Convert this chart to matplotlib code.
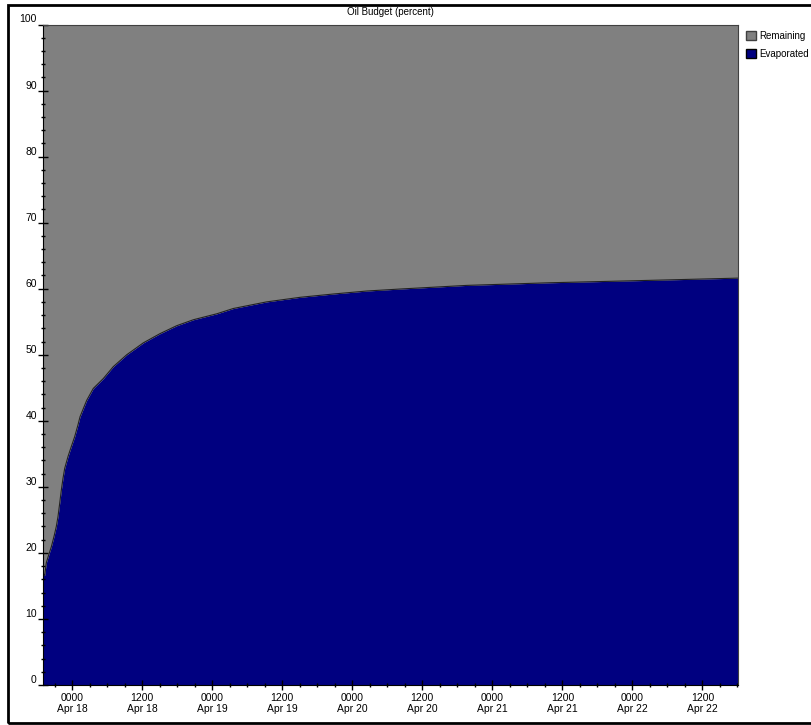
"""
Oil budget chart - remaining vs evaporated oil over five days
"""

from datetime import datetime, timedelta

import matplotlib
matplotlib.use('Agg')
import matplotlib.pyplot as plt
import matplotlib.dates as mdates
from matplotlib.patches import Patch, Rectangle

plt.rcParams['font.family'] = ['Liberation Sans', 'DejaVu Sans']

# hours since the start of the run
hours = [0.0, 0.29, 0.57, 0.98, 1.42, 1.89, 2.28, 2.57, 2.86, 3.14, 3.43,
         3.72, 4.29, 4.85, 5.43, 6.0, 6.34, 7.49, 8.62, 10.34, 12.05,
         14.35, 17.19, 20.06, 22.92, 25.77, 29.78, 32.6, 38.3, 44.1, 49.8,
         55.5, 61.2, 72.6, 86.9, 101.1, 119.1]
# evaporated share of the oil, percent
evaporated = [16.9, 16.6, 18.5, 19.7, 20.9, 22.5, 24.0, 25.5, 27.5, 29.5,
              31.3, 32.8, 34.6, 36.1, 37.6, 39.4, 40.6, 43.1, 44.9, 46.4,
              48.2, 50.0, 51.8, 53.2, 54.4, 55.3, 56.2, 57.0, 58.0, 58.7,
              59.2, 59.65, 59.95, 60.5, 60.9, 61.2, 61.6]
total = 100.0

start = datetime(2010, 4, 17, 19, 0)
times = [start + timedelta(hours=h) for h in hours]

W, H = 811, 725
fig = plt.figure(figsize=(W / 100, H / 100), dpi=100)
ax = fig.add_axes([43 / W, 40 / H, 695 / W, 660.5 / H])

grey = '#808080'
navy = '#000080'

ax.fill_between(times, evaporated, total, color=grey, linewidth=0)
ax.fill_between(times, 0, evaporated, color=navy, linewidth=0)
ax.plot(times, evaporated, color='#202020', linewidth=0.8)

ax.set_xlim(start, start + timedelta(hours=119.1))
ax.set_ylim(0, 100)

# axis ticks
ax.xaxis.set_major_locator(mdates.HourLocator(byhour=[0, 12]))
ax.xaxis.set_minor_locator(mdates.HourLocator(byhour=range(0, 24, 3)))
ax.xaxis.set_major_formatter(mdates.DateFormatter('%H%M\n%b %d'))
ax.set_yticks(range(0, 101, 10))
ax.set_yticks(range(0, 101, 2), minor=True)

ax.tick_params(axis='both', which='major', direction='inout', length=7,
               width=1, labelsize=7.5, color='black')
ax.tick_params(axis='both', which='minor', direction='inout', length=3,
               width=1, color='black')
ax.tick_params(axis='x', which='major', pad=2)
ax.tick_params(axis='y', which='major', pad=1)
for lab in ax.get_yticklabels():
    lab.set_verticalalignment('bottom')
for lab in ax.get_xticklabels():
    lab.set_linespacing(1.15)

for side in ['left', 'bottom']:
    ax.spines[side].set_color('black')
for side in ['top', 'right']:
    ax.spines[side].set_color('#404040')

fig.text((43 + 738) / 2 / W, 1 - 12 / H, 'Oil Budget (percent)',
         ha='center', va='center', fontsize=7)

# legend at the right hand side
handles = [Patch(facecolor=grey, edgecolor='#404040', label='Remaining'),
           Patch(facecolor=navy, edgecolor='black', label='Evaporated')]
fig.legend(handles=handles, loc='upper left',
           bbox_to_anchor=(746 / W, 1 - 31 / H), frameon=False,
           fontsize=7, handlelength=1.05, handleheight=1.05,
           handletextpad=0.35, labelspacing=0.8, borderpad=0,
           borderaxespad=0)

# outer frame round the whole chart
fig.patches.append(Rectangle((8 / W, 2.5 / H), 1.0, 717.5 / H,
                             transform=fig.transFigure, fill=False,
                             edgecolor='black', linewidth=2))

fig.savefig('out.png', dpi=100)
